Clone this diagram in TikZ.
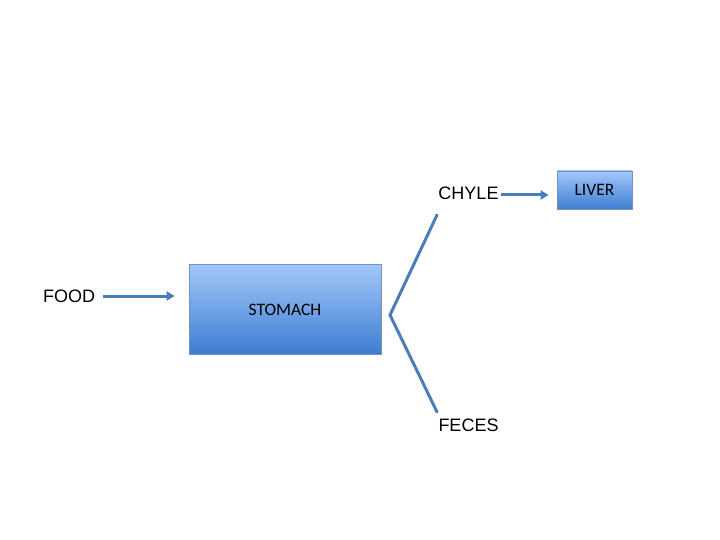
\documentclass[tikz,border=0pt]{standalone}
\usepackage{fontspec}
\setmainfont{Liberation Sans}
\newfontfamily\calib{Carlito}
\usetikzlibrary{arrows.meta}
\definecolor{lineblue}{HTML}{4A7EBB}
\definecolor{boxtop}{HTML}{A3C8FB}
\definecolor{boxmid}{HTML}{8AB3EE}
\definecolor{boxbot}{HTML}{3D7DD0}
\definecolor{boxedge}{HTML}{7393C0}
\tikzset{
  lbl/.style={inner sep=0pt, font=\fontsize{18}{20}\selectfont},
  gbox/.style={draw=boxedge, line width=0.8pt, top color=boxtop, middle color=boxmid, bottom color=boxbot, inner sep=0pt, font=\calib\fontsize{17.5}{20}\selectfont},
  arr/.style={draw=lineblue, line width=3pt, -{Triangle[length=8pt,width=9pt]}},
  ln/.style={draw=lineblue, line width=3pt, line cap=round, line join=miter}
}
\begin{document}
\begin{tikzpicture}[x=1pt,y=-1pt]
\useasboundingbox (0,0) rectangle (720,540);
\node[lbl] (food) at (69,296) {FOOD};
\node[gbox, minimum width=192pt, minimum height=90pt] (stomach) at (285,309) {};
\node[inner sep=0pt, font=\calib\fontsize{17.5}{20}\selectfont] (stext) at (285,310) {STOMACH};
\node[lbl] (chyle) at (468.5,193) {CHYLE};
\node[lbl] (feces) at (468.5,425) {FECES};
\node[gbox, minimum width=75pt, minimum height=38pt] (liver) at (594.5,190) {LIVER};
\coordinate (z1) at (437,215);
\coordinate (z2) at (390,315);
\coordinate (z3) at (437,412);
\draw[arr] ([xshift=8pt]food.east) -- ([xshift=-14pt]food.east -| stomach.west);
\draw[arr] ([xshift=2pt,yshift=-2pt]chyle.east) -- ([xshift=-8pt,yshift=-2pt]chyle.east -| liver.west);
\draw[ln] (z1) -- (z2) -- (z3);
\end{tikzpicture}
\end{document}
